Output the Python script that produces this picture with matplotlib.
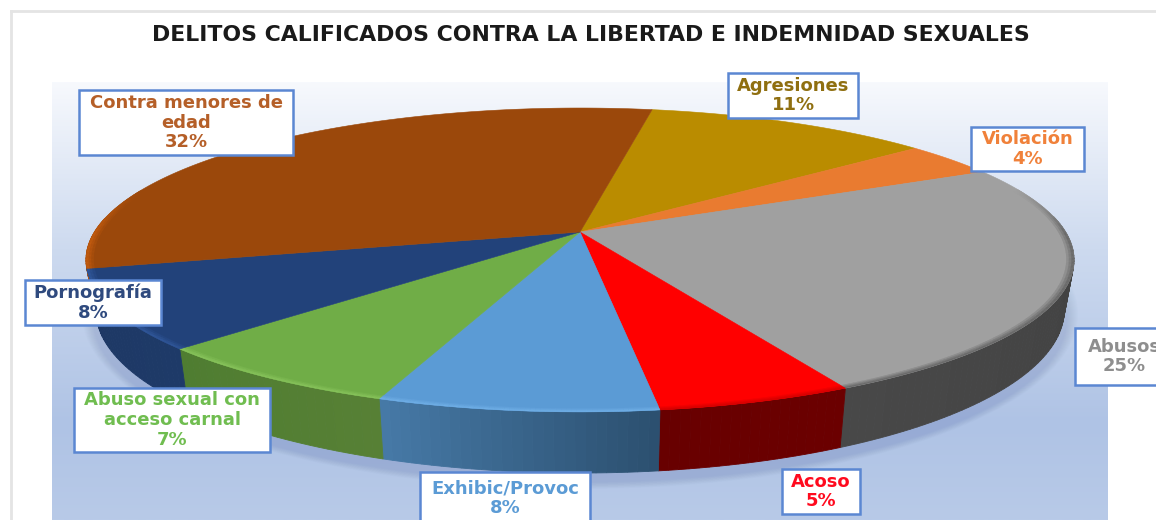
import numpy as np
import matplotlib
matplotlib.use("Agg")
import matplotlib.pyplot as plt
from matplotlib.colors import to_rgb, LinearSegmentedColormap
from matplotlib.patches import Polygon, Rectangle, Ellipse

# ---- data (clockwise from the Agresiones / Contra boundary)
categories = ["Agresiones", "Violación", "Abusos", "Acoso", "Exhibic/Provoc",
              "Abuso sexual con\nacceso carnal", "Pornografía", "Contra menores de\nedad"]
values = [11.2, 3.7, 24.7, 5.4, 7.7, 7.2, 8.4, 31.6]   # slice shares as drawn
labels = ["11%", "4%", "25%", "5%", "8%", "7%", "8%", "32%"]
title = "DELITOS CALIFICADOS CONTRA LA LIBERTAD E INDEMNIDAD SEXUALES"

# ---- styles
top_colors = ["#BA8C00", "#E97B30", "#A0A0A0", "#FF0000", "#5B9BD5", "#70AD47", "#22427A", "#9B480B"]
rim_colors = ["#BA8C00", "#E97B30", "#6A6A6A", "#D80000", "#6FAEE6", "#86C25A", "#2F5597", "#C05A0F"]
wall_start = ["#7A5C00", "#A55420", "#3E3E3E", "#6B0000", "#2C5070", "#578035", "#1E3A68", "#B4540E"]
wall_end = ["#7A5C00", "#A55420", "#484848", "#680000", "#4679A6", "#4F7D31", "#1E3864", "#C05A0F"]
text_colors = ["#8F6F10", "#F0813A", "#8E8E8E", "#FF0A1E", "#5B9BD5", "#70BD50", "#2F4A7E", "#B55F28"]
boxes = [(728, 73, 858, 118), (971, 127, 1084, 171), (1075, 328, 1173, 385), (782, 469, 860, 514),
         (420, 472, 590, 524), (74, 388, 270, 452), (25, 280, 161, 325), (79, 90, 293, 155)]
START = 79.9
K = 0.184


def project(theta_deg, r=1.0, yc=232.0, A=146.8, B=485.6, xc=580.0):
    t = np.radians(theta_deg)
    u, v = r * np.cos(t), r * np.sin(t)
    d = 1 + K * v
    return xc + B * u / d, yc - A * v / d


def project_low(theta_deg):
    return project(theta_deg, 1.0, 280.0, 157.5, 476.0)


fig = plt.figure(figsize=(11.56, 5.2), dpi=100, facecolor="white")
ax = fig.add_axes([0, 0, 1, 1])
ax.set_xlim(0, 1156)
ax.set_ylim(520, 0)
ax.axis("off")

# frame
ax.plot([11, 11], [520, 11], color="#E4E4E4", lw=2, zorder=1)
ax.plot([11, 1156], [11, 11], color="#E4E4E4", lw=2, zorder=1)

# panel gradient
cmap = LinearSegmentedColormap.from_list(
    "bg", [(0, "#F7F9FD"), (0.38, "#CDDAEF"), (0.78, "#AFC3E5"), (1, "#B8CAE8")])
grad = np.linspace(0, 1, 256).reshape(-1, 1)
ax.imshow(grad, extent=(52, 1108, 520, 82), cmap=cmap, aspect="auto", zorder=1)
ax.set_xlim(0, 1156)
ax.set_ylim(520, 0)

# soft shadow
for i in range(12):
    ax.add_patch(Ellipse((580, 314 + i * 0.4), 2 * (484 + 14 - i), 2 * (163 + 12 - i),
                         fc="#5A78AA", ec="none", alpha=0.02, zorder=2))

# slices
angles = START - np.concatenate([[0], np.cumsum(values)]) * 360.0 / sum(values)
for i in range(len(values)):
    a0, a1 = angles[i], angles[i + 1]
    steps = max(int(abs(a1 - a0)), 2)
    th = np.linspace(a0, a1, steps + 1)
    c0, c1 = np.array(to_rgb(wall_start[i])), np.array(to_rgb(wall_end[i]))
    # side wall, one strip per degree
    for j in range(steps):
        s = np.linspace(th[j], th[j + 1], 3)
        xt, yt = project(s)
        xb, yb = project_low(s)
        # front half only is visible
        if np.sin(np.radians(s[1])) > 0.1:
            continue
        col = c0 + (c1 - c0) * j / max(steps - 1, 1)
        ax.add_patch(Polygon(np.r_[np.c_[xt, yt], np.c_[xb, yb][::-1]], fc=col, ec=col, lw=0.6, zorder=3))

for i in range(len(values)):
    a0, a1 = angles[i], angles[i + 1]
    th = np.linspace(a0, a1, 200)
    x, y = project(th)
    cx, cy = project(0.0, 0.0)
    ax.add_patch(Polygon(np.r_[[[cx, cy]], np.c_[x, y]], fc=top_colors[i], ec=top_colors[i], lw=0.4, zorder=4))
    # bevel along the rim, fading out towards the back
    c_top, c_rim = np.array(to_rgb(top_colors[i])), np.array(to_rgb(rim_colors[i]))
    rs = [0.985, 0.99, 0.995, 1.0]
    seg = np.linspace(a0, a1, max(int(abs(a1 - a0) * 2), 2) + 1)
    for k in range(len(seg) - 1):
        t = np.array([seg[k], seg[k + 1]])
        fade = np.clip((0.3 - np.sin(np.radians(t.mean()))) / 0.3, 0, 1)
        if fade == 0:
            continue
        for n in range(3):
            xi, yi = project(t, rs[n])
            xo, yo = project(t, rs[n + 1])
            col = c_top + (c_rim - c_top) * fade * (n + 1) / 3
            ax.add_patch(Polygon(np.r_[np.c_[xi, yi], np.c_[xo, yo][::-1]], fc=col, ec=col, lw=0.2, zorder=5))

# labels
for name, lab, box, col in zip(categories, labels, boxes, text_colors):
    x0, y0, x1, y1 = box
    ax.add_patch(Rectangle((x0, y0), x1 - x0, y1 - y0, fc="white", ec="#5B87D2", lw=1.8, zorder=6))
    ax.text((x0 + x1) / 2, (y0 + y1) / 2, f"{name}\n{lab}", ha="center", va="center", ma="center",
            color=col, fontsize=13.0, fontweight="bold", family="DejaVu Sans", linespacing=1.13, zorder=7)

ax.text(590.5, 35, title, ha="center", va="center", fontsize=15.8, fontweight="bold",
        family="DejaVu Sans", color="#1A1A1A", zorder=7)

fig.savefig("out.png", dpi=100, facecolor="white")
